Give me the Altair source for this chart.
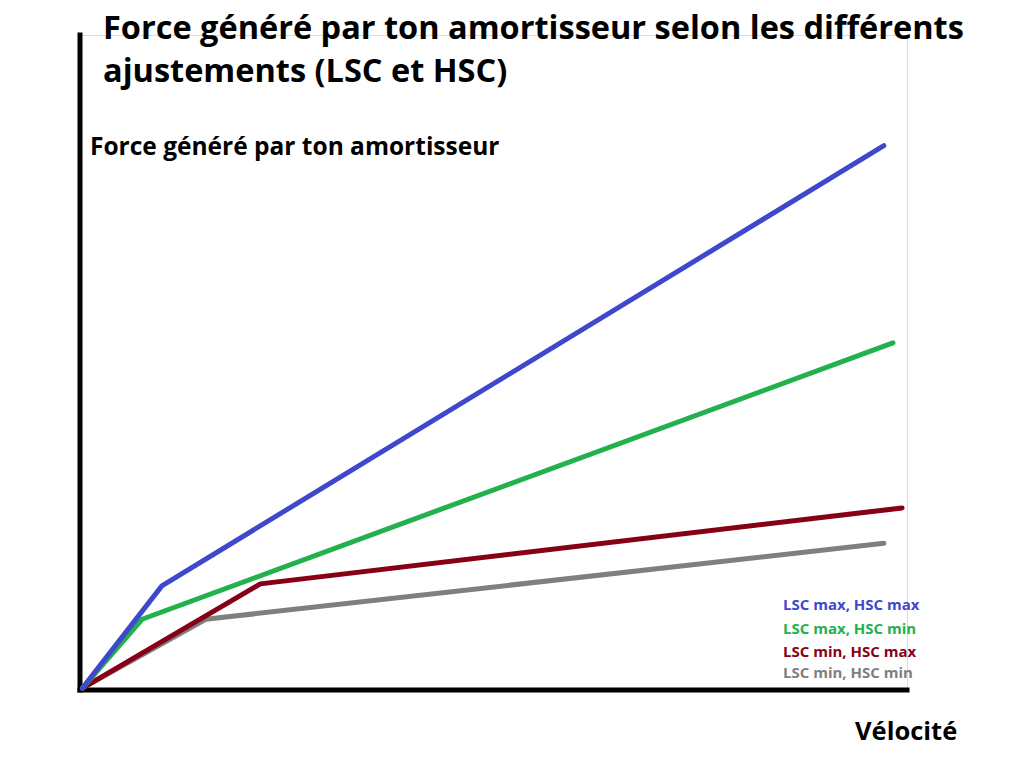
import altair as alt
import pandas as pd

# ---- data (arbitrary units, 0..100) ----
series = ["LSC max, HSC max", "LSC max, HSC min", "LSC min, HSC max", "LSC min, HSC min"]
colors = ["#3F48CC", "#22B14C", "#880015", "#7F7F7F"]
x_pts = {
    "LSC max, HSC max": [0.3, 9.9, 97.2],
    "LSC max, HSC min": [0.3, 7.5, 98.3],
    "LSC min, HSC max": [0.3, 21.8, 99.4],
    "LSC min, HSC min": [0.3, 15.2, 97.2],
}
y_pts = {
    "LSC max, HSC max": [0.3, 15.9, 83.1],
    "LSC max, HSC min": [0.3, 10.8, 53.0],
    "LSC min, HSC max": [0.3, 16.2, 27.8],
    "LSC min, HSC min": [0.3, 10.8, 22.4],
}
draw_order = ["LSC min, HSC min", "LSC min, HSC max", "LSC max, HSC min", "LSC max, HSC max"]

title_lines = ["Force généré par ton amortisseur selon les différents", "ajustements (LSC et HSC)"]
y_label = "Force généré par ton amortisseur"
x_label = "Vélocité"

FONT = "Open Sans"
W, H = 827, 655

xs = alt.Scale(domain=[0, 100], nice=False)
ys = alt.Scale(domain=[0, 100], nice=False)

layers = []

# axis lines
axis_df = pd.DataFrame({"a": [0]})
layers.append(
    alt.Chart(axis_df).mark_rule(color="black", strokeWidth=5, strokeCap="square").encode(
        x=alt.value(0), y=alt.value(0), y2=alt.value(H)
    )
)
layers.append(
    alt.Chart(axis_df).mark_rule(color="black", strokeWidth=5, strokeCap="square").encode(
        x=alt.value(0), x2=alt.value(W), y=alt.value(H)
    )
)

for s in draw_order:
    df = pd.DataFrame({"x": x_pts[s], "y": y_pts[s], "o": list(range(len(x_pts[s])))})
    layers.append(
        alt.Chart(df).mark_line(color=colors[series.index(s)], strokeWidth=5, strokeCap="round", strokeJoin="round").encode(
            x=alt.X("x:Q", scale=xs, axis=None),
            y=alt.Y("y:Q", scale=ys, axis=None),
            order="o:Q",
        )
    )

# title lines
title_baselines = [4, 47]
for t, by in zip(title_lines, title_baselines):
    layers.append(
        alt.Chart(pd.DataFrame({"t": [t]})).mark_text(
            align="left", baseline="alphabetic", font=FONT, fontWeight="bold", fontSize=32.5, color="black"
        ).encode(text="t:N", x=alt.value(23), y=alt.value(by))
    )

layers.append(
    alt.Chart(pd.DataFrame({"t": [y_label]})).mark_text(
        align="left", baseline="alphabetic", font=FONT, fontWeight="bold", fontSize=24.5, color="black"
    ).encode(text="t:N", x=alt.value(10), y=alt.value(120))
)
layers.append(
    alt.Chart(pd.DataFrame({"t": [x_label]})).mark_text(
        align="left", baseline="alphabetic", font=FONT, fontWeight="bold", fontSize=25.5, color="black"
    ).encode(text="t:N", x=alt.value(775), y=alt.value(705))
)

legend_y = [575, 599, 622, 643]
for s, c, ly in zip(series, colors, legend_y):
    layers.append(
        alt.Chart(pd.DataFrame({"t": [s]})).mark_text(
            align="left", baseline="alphabetic", font=FONT, fontWeight="bold", fontSize=15, color=c
        ).encode(text="t:N", x=alt.value(703), y=alt.value(ly))
    )

chart = alt.layer(*layers).properties(
    width=W, height=H,
    autosize=alt.AutoSizeParams(type="none"),
    padding={"left": 72, "top": 27, "right": 100, "bottom": 60},
).configure_view(stroke="white", strokeWidth=0, strokeOpacity=0).configure(background="white")

chart.save("out.html", embed_options={"renderer": "svg", "actions": False})
